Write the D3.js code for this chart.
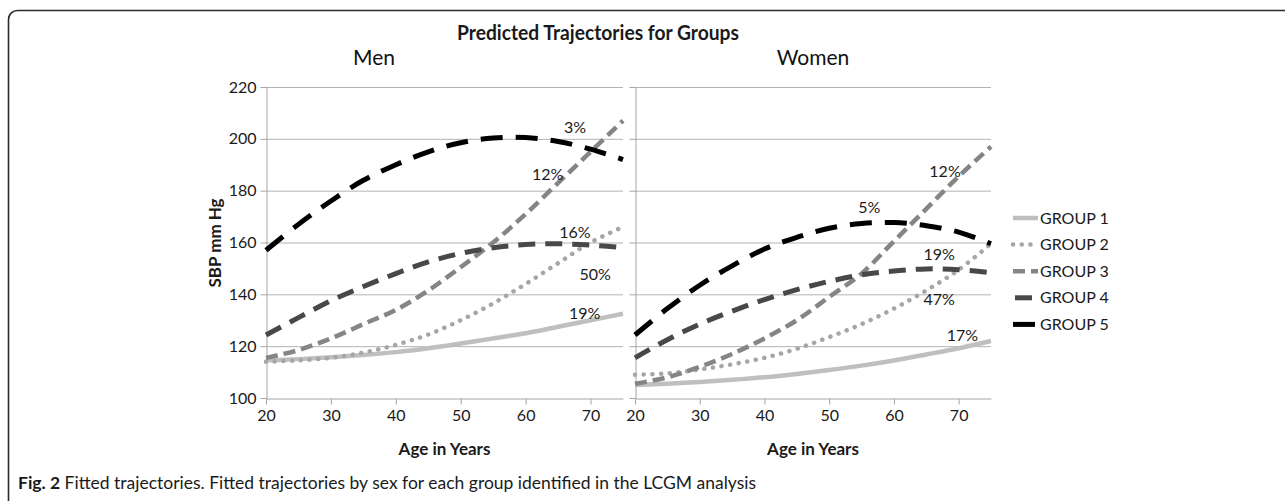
<!DOCTYPE html>
<html>
<head>
<meta charset="utf-8">
<script src="https://cdn.jsdelivr.net/npm/d3@7"></script>
<style>
  body { margin: 0; background: #fff; }
  svg { display: block; font-family: Lato, "Open Sans", sans-serif; }
</style>
</head>
<body>
<svg width="1285" height="501"></svg>
<script>
var ages = [20, 25, 30, 35, 40, 45, 50, 55, 60, 65, 70, 75];
var groupNames = ["GROUP 1", "GROUP 2", "GROUP 3", "GROUP 4", "GROUP 5"];
var yTicks = [100, 120, 140, 160, 180, 200, 220];
var xTicks = [20, 30, 40, 50, 60, 70];

// men, SBP per group
var menGroup1 = [114.5, 115, 115.7, 116.6, 117.7, 119.2, 121, 123, 125, 127.5, 130, 132.5];
var menGroup2 = [114, 114.5, 115.5, 117.5, 120.5, 124.5, 130, 136.5, 144, 152, 160, 166];
var menGroup3 = [115.5, 118.5, 123, 128.5, 134, 141.5, 150.5, 160, 171, 183, 195, 207];
var menGroup4 = [124.3, 131, 137.5, 143, 148, 152.5, 155.8, 158, 159.2, 159.5, 159, 158];
var menGroup5 = [157, 167, 176, 184, 190, 195, 198.5, 200.3, 200.5, 199, 196, 192];

// women, SBP per group
var womenGroup1 = [105, 105.5, 106.2, 107, 108, 109.3, 110.8, 112.5, 114.5, 116.8, 119.2, 122];
var womenGroup2 = [109, 109.5, 111, 113, 115.5, 119, 123.5, 128.5, 134.5, 141.5, 149.5, 159.5];
var womenGroup3 = [105.5, 108, 112, 117, 123, 130, 139, 148, 160.5, 173, 185.5, 197];
var womenGroup4 = [115.5, 122.5, 128.5, 133.5, 138, 141.8, 145, 147.5, 149, 149.8, 149.5, 148.3];
var womenGroup5 = [124.3, 134.5, 143.5, 151, 157.5, 162, 165.5, 167.3, 167.7, 166.5, 164, 159.5];

// group share labels (text, age, SBP)
var menPctText = ["19%", "50%", "12%", "16%", "3%"];
var menPctAge = [69.1, 70.7, 63.4, 67.6, 67.6];
var menPctValue = [132.6, 147.6, 186.3, 164, 204.3];
var womenPctText = ["17%", "47%", "12%", "19%", "5%"];
var womenPctAge = [70.6, 67, 67.9, 67, 56.2];
var womenPctValue = [124.2, 137.9, 187.3, 155.2, 173.4];

// line looks, one per group
var groupStyle = [
  { color: "#bfbfbf", width: 4.5, dash: null, cap: "butt" },
  { color: "#a6a6a6", width: 4.5, dash: "0.1 8.6", cap: "round" },
  { color: "#858585", width: 4.5, dash: "12 6", cap: "butt" },
  { color: "#484848", width: 5, dash: "17 10", cap: "butt" },
  { color: "#000000", width: 5, dash: "22 13", cap: "butt" },
];

var svg = d3.select("svg");

// outer frame (runs off the right / bottom edge)
svg.append("rect")
  .attr("x", 8.5).attr("y", 10.5)
  .attr("width", 1300).attr("height", 510)
  .attr("rx", 9)
  .style("fill", "none")
  .style("stroke", "#2b2b2b")
  .style("stroke-width", 1.6);

svg.append("text") //main title
  .attr("x", 598)
  .attr("y", 40)
  .attr("text-anchor", "middle")
  .attr("font-size", "20px")
  .attr("font-weight", "bold")
  .attr("textLength", 282)
  .attr("lengthAdjust", "spacingAndGlyphs")
  .style("fill", "#1a1a1a")
  .text("Predicted Trajectories for Groups");

var y = d3.scaleLinear().domain([100, 220]).range([398, 87]);

var panels = [
  { name: "Men", x: d3.scaleLinear().domain([20, 75]).range([266, 623]), labels: true,
    series: [menGroup1, menGroup2, menGroup3, menGroup4, menGroup5],
    pct: [menPctText, menPctAge, menPctValue], titleX: 374 },
  { name: "Women", x: d3.scaleLinear().domain([20, 75]).range([635, 991]), labels: false,
    series: [womenGroup1, womenGroup2, womenGroup3, womenGroup4, womenGroup5],
    pct: [womenPctText, womenPctAge, womenPctValue], titleX: 813 },
];

panels.forEach(function (p) {
  var g = svg.append("g");
  var x0 = p.x.range()[0], x1 = p.x.range()[1];

  // horizontal gridlines
  g.selectAll(".grid")
    .data(yTicks.slice(1))
    .enter()
    .append("line")
    .attr("x1", x0).attr("x2", x1)
    .attr("y1", (d) => y(d) + 0.5).attr("y2", (d) => y(d) + 0.5)
    .style("stroke", "#b3b3b3")
    .style("stroke-width", 1);

  // y axis
  var yAxis = g.append("g")
    .attr("transform", "translate(" + (x0 + 0.5) + ",0)")
    .call(d3.axisLeft(y).tickValues(yTicks).tickSize(6).tickSizeOuter(0)
      .tickFormat(p.labels ? d3.format("d") : ""));
  yAxis.select(".domain").style("stroke", "#a6a6a6");
  yAxis.selectAll(".tick line").style("stroke", "#a6a6a6");
  yAxis.selectAll(".tick text")
    .attr("x", -10)
    .style("font-family", "Lato")
    .style("font-size", "16px")
    .style("fill", "#1a1a1a");

  // x axis
  var xAxis = g.append("g")
    .attr("transform", "translate(0," + (y(100) + 0.5) + ")")
    .call(d3.axisBottom(p.x).tickValues(xTicks).tickSize(6).tickSizeOuter(0));
  xAxis.select(".domain").style("stroke", "#a6a6a6");
  xAxis.selectAll(".tick line").style("stroke", "#a6a6a6");
  xAxis.selectAll(".tick text")
    .attr("y", 11)
    .style("font-family", "Lato")
    .style("font-size", "16px")
    .style("fill", "#1a1a1a");

  // curves
  var line = d3.line()
    .x((d, i) => p.x(ages[i]))
    .y((d) => y(d))
    .curve(d3.curveCatmullRom);

  g.selectAll(".curve")
    .data(p.series)
    .enter()
    .append("path")
    .attr("d", line)
    .style("fill", "none")
    .style("stroke", (d, i) => groupStyle[i].color)
    .style("stroke-width", (d, i) => groupStyle[i].width)
    .style("stroke-dasharray", (d, i) => groupStyle[i].dash)
    .style("stroke-linecap", (d, i) => groupStyle[i].cap);

  // percent labels
  g.selectAll(".pct")
    .data(p.pct[0])
    .enter()
    .append("text")
    .attr("x", (d, i) => p.x(p.pct[1][i]))
    .attr("y", (d, i) => y(p.pct[2][i]) + 5.5)
    .attr("text-anchor", "middle")
    .attr("font-size", "16px")
    .style("fill", "#1a1a1a")
    .text((d) => d);

  // panel title
  svg.append("text")
    .attr("x", p.titleX)
    .attr("y", 65)
    .attr("text-anchor", "middle")
    .attr("font-size", "21px")
    .style("fill", "#111")
    .text(p.name);

  // x axis title
  svg.append("text")
    .attr("x", (x0 + x1) / 2)
    .attr("y", 455)
    .attr("text-anchor", "middle")
    .attr("font-size", "17px")
    .attr("font-weight", "bold")
    .style("fill", "#1a1a1a")
    .text("Age in Years");
});

svg.append("text") //y axis title
  .attr("transform", "translate(221,243) rotate(-90)")
  .attr("text-anchor", "middle")
  .attr("font-size", "17px")
  .attr("font-weight", "bold")
  .style("fill", "#1a1a1a")
  .text("SBP mm Hg");

// legend
var legend = svg.append("g")
  .selectAll("g")
  .data(groupNames)
  .enter()
  .append("g")
  .attr("transform", (d, i) => "translate(1013," + (218 + i * 26.6) + ")");

legend.append("line")
  .attr("x1", 0).attr("x2", 25)
  .style("stroke", (d, i) => groupStyle[i].color)
  .style("stroke-width", (d, i) => groupStyle[i].width)
  .style("stroke-dasharray", (d, i) => groupStyle[i].dash)
  .style("stroke-dashoffset", (d, i) => (i === 3 ? -2 : 0))
  .style("stroke-linecap", (d, i) => groupStyle[i].cap);

legend.append("text")
  .attr("x", 27)
  .attr("y", 5.5)
  .attr("font-size", "16px")
  .style("fill", "#1a1a1a")
  .text((d) => d);

// caption
var cap = svg.append("text")
  .attr("x", 18)
  .attr("y", 489)
  .attr("font-size", "17px")
  .attr("textLength", 738)
  .attr("lengthAdjust", "spacingAndGlyphs")
  .style("fill", "#1a1a1a");
cap.append("tspan").attr("font-weight", "bold").text("Fig. 2");
cap.append("tspan").text(" Fitted trajectories. Fitted trajectories by sex for each group identified in the LCGM analysis");
</script>
</body>
</html>
